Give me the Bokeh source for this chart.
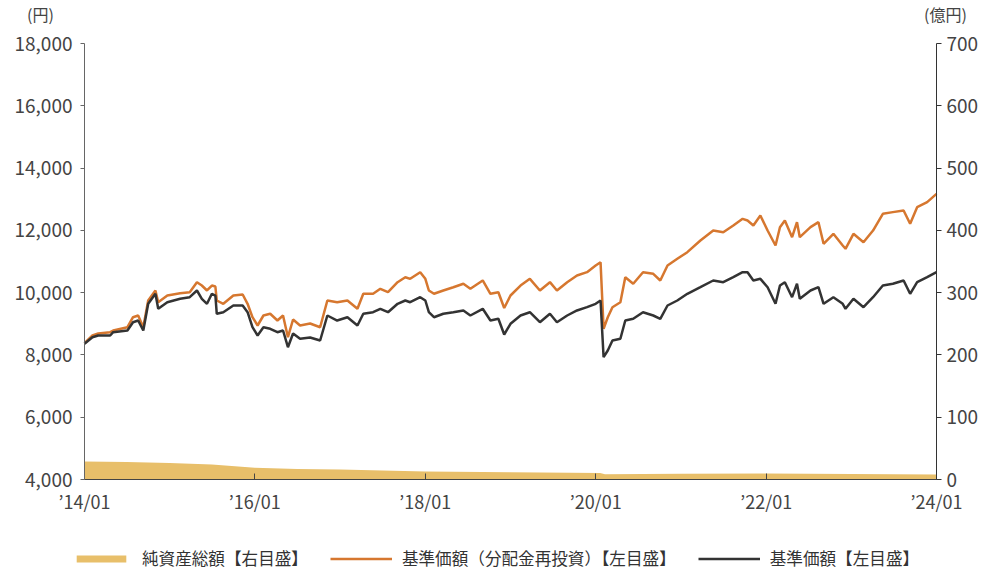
from datetime import datetime
import pandas as pd
from bokeh.plotting import figure
from bokeh.models import (Range1d, LinearAxis, DatetimeAxis, FixedTicker, DatetimeTickFormatter,
                          NumeralTickFormatter, Legend, LegendItem, Label, ColumnDataSource)
from bokeh.embed import file_html
from bokeh.resources import INLINE

# ---- data ----
dates = [
    "2014-01-01", "2014-02-04", "2014-03-01", "2014-04-21", "2014-05-04", "2014-07-04", "2014-07-28",
    "2014-08-19", "2014-09-10", "2014-10-01", "2014-11-01", "2014-11-13", "2014-12-22", "2015-02-15",
    "2015-03-28", "2015-04-28", "2015-05-19", "2015-06-10", "2015-07-01", "2015-07-16", "2015-07-22",
    "2015-08-19", "2015-10-01", "2015-11-10", "2015-12-01", "2015-12-22", "2016-01-13", "2016-02-07",
    "2016-03-07", "2016-04-07", "2016-05-01", "2016-05-22", "2016-06-13", "2016-07-13", "2016-08-25",
    "2016-10-07", "2016-11-07", "2016-12-19", "2017-02-01", "2017-03-16", "2017-04-10", "2017-05-22",
    "2017-06-22", "2017-07-25", "2017-09-04", "2017-10-07", "2017-10-28", "2017-12-10", "2018-01-01",
    "2018-01-16", "2018-02-07", "2018-03-19", "2018-05-01", "2018-06-13", "2018-07-13", "2018-09-04",
    "2018-10-07", "2018-11-10", "2018-12-05", "2019-01-01", "2019-02-13", "2019-03-25", "2019-05-07",
    "2019-06-19", "2019-07-19", "2019-09-01", "2019-10-13", "2019-11-25", "2020-01-01", "2020-01-22",
    "2020-02-04", "2020-02-22", "2020-03-13", "2020-04-16", "2020-05-07", "2020-06-10", "2020-07-22",
    "2020-09-04", "2020-10-04", "2020-11-04", "2020-12-16", "2021-01-28", "2021-03-25", "2021-05-19",
    "2021-07-01", "2021-08-13", "2021-09-22", "2021-10-13", "2021-11-07", "2021-12-07", "2022-01-07",
    "2022-02-10", "2022-03-01", "2022-03-22", "2022-04-22", "2022-05-13", "2022-05-25", "2022-07-10",
    "2022-08-13", "2022-09-04", "2022-10-16", "2022-11-25", "2022-12-07", "2023-01-10", "2023-02-22",
    "2023-04-04", "2023-05-16", "2023-06-28", "2023-08-13", "2023-09-10", "2023-10-10", "2023-11-22",
    "2024-01-01",
]

nav = [
    8360, 8569, 8624, 8624, 8730, 8784, 9051, 9105, 8784, 9642, 9963, 9481, 9693, 9802,
    9854, 10069, 9802, 9642, 9963, 9908, 9321, 9372, 9587, 9587, 9372, 8890, 8624, 8890,
    8839, 8730, 8784, 8248, 8688, 8518, 8560, 8463, 9266, 9105, 9211, 8945, 9321, 9372,
    9481, 9372, 9642, 9748, 9693, 9854, 9748, 9372, 9211, 9321, 9372, 9427, 9266, 9481,
    9105, 9160, 8656, 9000, 9266, 9372, 9051, 9321, 9051, 9266, 9427, 9533, 9642, 9748,
    7927, 8142, 8463, 8518, 9105, 9160, 9372, 9266, 9160, 9587, 9748, 9963, 10175, 10390,
    10336, 10496, 10657, 10657, 10390, 10444, 10175, 9642, 10229, 10336, 9854, 10284, 9802, 10069,
    10175, 9642, 9854, 9642, 9481, 9802, 9533, 9854, 10229, 10284, 10390, 9963, 10336, 10496,
    10657,
]

nav_reinvested = [
    8380, 8624, 8688, 8730, 8784, 8890, 9211, 9266, 8890, 9748, 10069, 9693, 9908, 9982,
    10014, 10336, 10229, 10069, 10229, 10197, 9748, 9642, 9908, 9940, 9642, 9211, 8945, 9266,
    9321, 9105, 9266, 8569, 9138, 8945, 9009, 8890, 9748, 9693, 9748, 9481, 9963, 9963,
    10123, 10014, 10336, 10496, 10444, 10657, 10444, 10069, 9963, 10069, 10175, 10284, 10123, 10390,
    9963, 10014, 9507, 9908, 10229, 10444, 10069, 10336, 10069, 10336, 10550, 10657, 10872, 10978,
    8839, 9211, 9533, 9693, 10496, 10284, 10657, 10605, 10390, 10872, 11087, 11299, 11674, 11995,
    11941, 12156, 12370, 12316, 12156, 12477, 11995, 11514, 12102, 12316, 11780, 12263, 11780, 12102,
    12263, 11568, 11889, 11514, 11408, 11889, 11620, 11995, 12532, 12585, 12638, 12210, 12745, 12906,
    13173,
]

asset_dates = ["2014-01-01", "2014-07-01", "2015-01-01", "2015-07-01", "2016-01-01", "2016-07-01",
               "2017-01-01", "2018-01-01", "2019-01-01", "2020-01-20", "2020-02-10", "2021-01-01",
               "2022-01-01", "2023-01-01", "2024-01-01"]
net_assets = [29, 28, 26.5, 24, 19, 17, 16, 13, 11.5, 10.5, 8.5, 9.2, 9.5, 8.8, 8.2]

left_ticks = [4000, 6000, 8000, 10000, 12000, 14000, 16000, 18000]
right_ticks = [0, 100, 200, 300, 400, 500, 600, 700]
x_tick_dates = ["2014-01-01", "2016-01-01", "2018-01-01", "2020-01-01", "2022-01-01", "2024-01-01"]

series_names = ["純資産総額【右目盛】", "基準価額（分配金再投資）【左目盛】", "基準価額【左目盛】"]
unit_left, unit_right = "(円)", "(億円)"

# ---- styling / geometry ----
W, H = 981, 570
FL, FR, FT, FB = 84, 936, 43, 479          # where the axes sit, in pixels
FONT = "Noto Sans CJK JP"
ORANGE = "#D6772F"
DARK = "#333333"
AREA = "#E8BF6A"
TXT = "#444444"

x0 = pd.Timestamp(x_tick_dates[0]).value / 1e6
x1 = pd.Timestamp(x_tick_dates[-1]).value / 1e6
ppx = (x1 - x0) / (FR - FL)                      # ms per pixel
yl0, yl1 = left_ticks[0], left_ticks[-1]
ppl = (yl1 - yl0) / (FB - FT)
yr0, yr1 = right_ticks[0], right_ticks[-1]
ppr = (yr1 - yr0) / (FB - FT)

x_range = Range1d(x0 - FL * ppx, x1 + (W - FR) * ppx)
y_range = Range1d(yl0 - (H - FB) * ppl, yl1 + FT * ppl)

line_src = ColumnDataSource(dict(x=pd.to_datetime(dates), nav=nav, nav_r=nav_reinvested))
area_src = ColumnDataSource(dict(x=pd.to_datetime(asset_dates), y=net_assets))

p = figure(width=W, height=H, x_axis_type=None, y_axis_type=None,
           x_range=x_range, y_range=y_range,
           output_backend="svg", toolbar_location=None,
           min_border_left=0, min_border_right=0, min_border_top=0, min_border_bottom=0)
p.extra_y_ranges = {"right": Range1d(yr0 - (H - FB) * ppr, yr1 + FT * ppr)}
p.outline_line_color = None
p.background_fill_color = "white"
p.border_fill_color = "white"

r_area = p.varea(x="x", y1=0, y2="y", source=area_src, fill_color=AREA, y_range_name="right")
r_or = p.line(x="x", y="nav_r", source=line_src, line_color=ORANGE, line_width=2.5)
r_bk = p.line(x="x", y="nav", source=line_src, line_color=DARK, line_width=2.5)

# left axis
ya = LinearAxis(ticker=FixedTicker(ticks=left_ticks), formatter=NumeralTickFormatter(format="0,0"),
                fixed_location=x0, bounds=(yl0, yl1))
ya.axis_line_color = "#666666"
ya.major_tick_line_color = "#666666"
ya.major_tick_out = 4
ya.major_tick_in = 0
ya.minor_tick_line_color = None
ya.major_label_text_font = FONT
ya.major_label_text_font_size = "19px"
ya.major_label_text_color = TXT
ya.major_label_standoff = 8
p.add_layout(ya, "left")

# right axis
ra = LinearAxis(y_range_name="right", ticker=FixedTicker(ticks=right_ticks),
                fixed_location=x1, bounds=(yr0, yr1))
ra.axis_line_color = "#333333"
ra.major_tick_line_color = "#333333"
ra.major_tick_out = 5
ra.major_tick_in = 0
ra.minor_tick_line_color = None
ra.major_label_text_font = FONT
ra.major_label_text_font_size = "19px"
ra.major_label_text_color = TXT
ra.major_label_standoff = 5
p.add_layout(ra, "right")

# bottom axis
xa = DatetimeAxis(ticker=FixedTicker(ticks=[pd.Timestamp(d).value / 1e6 for d in x_tick_dates]),
                  formatter=DatetimeTickFormatter(years="’%y/%m", months="’%y/%m", days="’%y/%m"),
                  fixed_location=yl0, bounds=(x0, x1))
xa.axis_line_color = "#444444"
xa.major_tick_line_color = "#444444"
xa.major_tick_in = 6
xa.major_tick_out = 0
xa.minor_tick_line_color = None
xa.major_label_text_font = FONT
xa.major_label_text_font_size = "18px"
xa.major_label_text_color = TXT
xa.major_label_standoff = 8
p.add_layout(xa, "below")

# unit labels
p.add_layout(Label(x=x0 - 44 * ppx, y=yl1 + 30 * ppl, text=unit_left, text_align="center",
                   text_baseline="middle", text_font=FONT, text_font_size="16px",
                   text_color=TXT))
p.add_layout(Label(x=x1 + 9 * ppx, y=yl1 + 30 * ppl, text=unit_right, text_align="center",
                   text_baseline="middle", text_font=FONT, text_font_size="16px",
                   text_color=TXT))

legend = Legend(items=[LegendItem(label=series_names[0], renderers=[r_area]),
                       LegendItem(label=series_names[1], renderers=[r_or]),
                       LegendItem(label=series_names[2], renderers=[r_bk])],
                orientation="horizontal", location=(70, 0),
                glyph_width=62, glyph_height=9, label_standoff=10, spacing=22,
                padding=0, margin=0, border_line_color=None, background_fill_alpha=0,
                label_text_font=FONT, label_text_font_size="16.6px", label_text_color="#333333")
p.add_layout(legend, "center")

open("out.html", "w").write(file_html(p, INLINE))
